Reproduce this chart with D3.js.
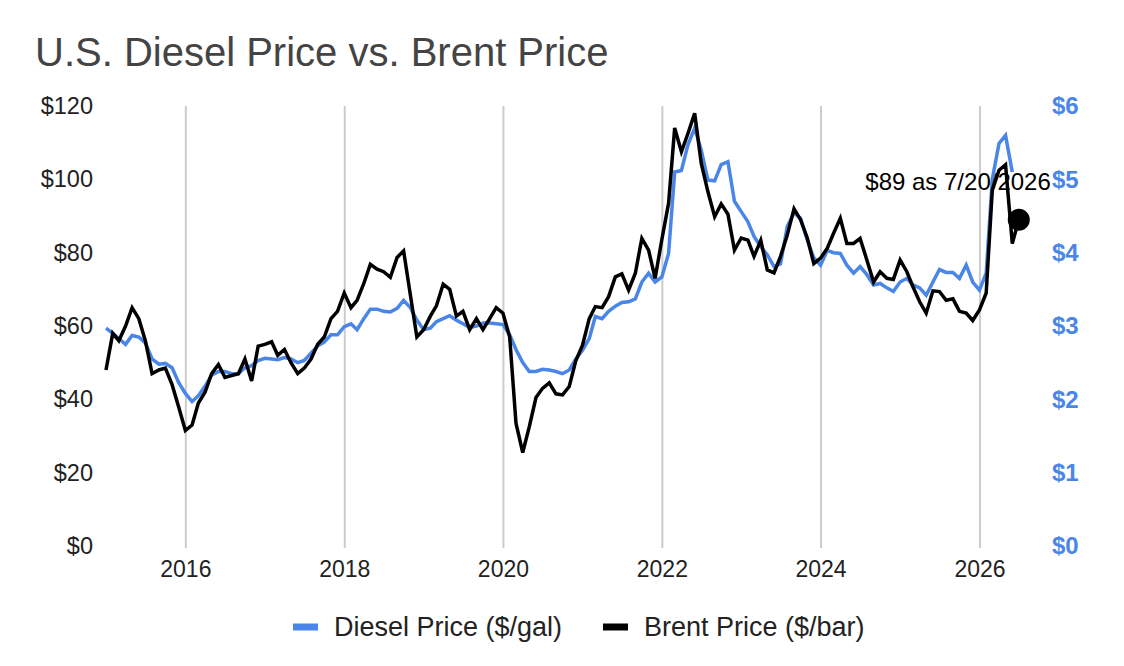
<!DOCTYPE html>
<html>
<head>
<meta charset="utf-8">
<script src="https://cdn.jsdelivr.net/npm/d3@7"></script>
<style>
  body { margin: 0; background: #fff; }
  svg { font-family: Arial, "Liberation Sans", sans-serif; }
</style>
</head>
<body>
<svg id="chart" width="1124" height="666"></svg>
<script>

const title = 'U.S. Diesel Price vs. Brent Price'
const startMonth = '2015-01'

// monthly, $/gal
const diesel = [
  2.97, 2.90, 2.83, 2.75, 2.87, 2.85, 2.77, 2.55, 2.48, 2.49, 2.43, 2.23,
  2.08, 1.97, 2.05, 2.18, 2.33, 2.38, 2.38, 2.35, 2.35, 2.43, 2.46, 2.53,
  2.56, 2.55, 2.54, 2.57, 2.55, 2.50, 2.53, 2.63, 2.73, 2.78, 2.88, 2.88,
  2.99, 3.03, 2.95, 3.10, 3.23, 3.23, 3.20, 3.19, 3.24, 3.35, 3.25, 3.08,
  2.95, 2.97, 3.06, 3.10, 3.14, 3.08, 3.03, 2.98, 3.00, 3.04, 3.04, 3.03,
  3.02, 2.88, 2.68, 2.50, 2.38, 2.38, 2.41, 2.40, 2.38, 2.35, 2.40, 2.55,
  2.67, 2.83, 3.13, 3.10, 3.20, 3.27, 3.32, 3.33, 3.37, 3.60, 3.72, 3.60,
  3.67, 3.99, 5.10, 5.12, 5.47, 5.70, 5.40, 4.99, 4.98, 5.20, 5.24, 4.70,
  4.56, 4.42, 4.22, 4.08, 3.97, 3.81, 3.85, 4.36, 4.54, 4.47, 4.17, 3.93,
  3.83, 4.03, 4.00, 3.99, 3.83, 3.72, 3.81, 3.70, 3.56, 3.58, 3.52, 3.47,
  3.60, 3.65, 3.56, 3.52, 3.42, 3.60, 3.77, 3.73, 3.73, 3.65, 3.83, 3.60,
  3.49, 3.72, 5.00, 5.49, 5.60, 5.10
]

// monthly, $/bar (last entry = latest reading)
const brent = [
  48, 58, 56, 60, 65, 62, 56, 47, 48, 48.5, 44, 38,
  31.5, 33, 39, 42, 47, 49.5, 46, 46.5, 47, 51, 45, 54.5,
  55, 55.7, 52, 53.6, 50, 47, 48.5, 51, 55, 57, 62, 64,
  69, 65, 67, 71.6, 76.8, 75.5, 74.8, 73.3, 78.7, 80.5, 68.5, 57,
  59, 62.7, 65.5, 71.4, 70, 62.7, 64, 59, 62, 59, 62, 65,
  63.5, 57, 33.5, 25.5, 32.5, 40.5, 43, 44.5, 41.5, 41.2, 43.5, 50.5,
  54.8, 62, 65.3, 65, 68, 73.4, 74.2, 69.8, 74.4, 83.9, 80.7, 73,
  83.6, 93.5, 114, 107.5, 112.5, 118, 104.4, 96.6, 89.8, 93.3, 90.5, 80.7,
  84, 83.4, 79, 83.4, 75.3, 74.5, 79, 84.8, 92, 89, 84, 77,
  78.5, 81.2, 85.3, 89.4, 82.5, 82.5, 83.9, 78, 72, 74.8, 73, 72.7,
  78, 74.8, 70.7, 66.6, 63.5, 69.6, 69.4, 67, 67.4, 64, 63.5, 61.5,
  64.4, 69, 97, 102.5, 104, 82.5, 89
]

const lastLabel = '$89 as 7/20/2026'

const yearTicks = [2016, 2018, 2020, 2022, 2024, 2026]
const leftTicks = [0, 20, 40, 60, 80, 100, 120]
const rightTicks = [0, 1, 2, 3, 4, 5, 6]
const seriesNames = ['Diesel Price ($/gal)', 'Brent Price ($/bar)']
const seriesColors = ['#4a86e8', '#000000']

const parseMonth = d3.timeParse('%Y-%m')
const monthAt = i => d3.timeMonth.offset(parseMonth(startMonth), i)

const dieselPts = diesel.map((v, i) => ({ date: monthAt(i), value: v }))
const brentPts = brent.map((v, i) => ({ date: monthAt(i), value: v }))

const svg = d3.select('#chart')
const plotTop = 106, plotBottom = 546

const x = d3.scaleTime()
  .domain([monthAt(0), monthAt(brent.length - 1)])
  .range([106, 1018.8])

const yL = d3.scaleLinear().domain([0, 120]).range([plotBottom, plotTop])
const yR = d3.scaleLinear().domain([0, 6]).range([plotBottom, plotTop])

svg.append('rect').attr('width', 1124).attr('height', 666).attr('fill', '#fff')

svg.append('text')
  .attr('x', 35).attr('y', 66)
  .attr('font-size', 40)
  .attr('fill', '#444')
  .text(title)

// vertical year grid + labels
const xAxis = svg.append('g')
  .attr('transform', `translate(0,${plotBottom + 2})`)
  .call(d3.axisBottom(x)
    .tickValues(yearTicks.map(y => new Date(y, 0, 1)))
    .tickSize(-(plotBottom + 2 - plotTop))
    .tickPadding(13)
    .tickFormat(d3.timeFormat('%Y')))
xAxis.select('.domain').remove()
xAxis.selectAll('line').attr('stroke', '#cccccc').attr('stroke-width', 2)
xAxis.selectAll('text')
  .attr('font-size', 23).attr('fill', '#222')
  .attr('font-family', 'Arial, "Liberation Sans", sans-serif')

const leftAxis = svg.append('g')
  .attr('transform', 'translate(93,0)')
  .call(d3.axisLeft(yL).tickValues(leftTicks).tickSize(0).tickPadding(0)
    .tickFormat(d => '$' + d))
leftAxis.select('.domain').remove()
leftAxis.selectAll('text')
  .attr('font-size', 23.5).attr('fill', '#222')
  .attr('font-family', 'Arial, "Liberation Sans", sans-serif')

const rightAxis = svg.append('g')
  .attr('transform', 'translate(1052,0)')
  .call(d3.axisRight(yR).tickValues(rightTicks).tickSize(0).tickPadding(0)
    .tickFormat(d => '$' + d))
rightAxis.select('.domain').remove()
rightAxis.selectAll('text')
  .attr('font-size', 24).attr('font-weight', 'bold').attr('fill', seriesColors[0])
  .attr('font-family', 'Arial, "Liberation Sans", sans-serif')

const dieselLine = d3.line().x(d => x(d.date)).y(d => yR(d.value))
const brentLine = d3.line().x(d => x(d.date)).y(d => yL(d.value))

svg.append('path')
  .datum(dieselPts)
  .attr('d', dieselLine)
  .attr('fill', 'none')
  .attr('stroke', seriesColors[0])
  .attr('stroke-width', 3.5)

svg.append('path')
  .datum(brentPts)
  .attr('d', brentLine)
  .attr('fill', 'none')
  .attr('stroke', seriesColors[1])
  .attr('stroke-width', 3.5)

const last = brentPts[brentPts.length - 1]
svg.append('circle')
  .attr('cx', x(last.date)).attr('cy', yL(last.value))
  .attr('r', 11).attr('fill', '#000')

svg.append('text')
  .attr('x', x(last.date) + 32).attr('y', yL(last.value) - 30)
  .attr('text-anchor', 'end')
  .attr('font-size', 24).attr('fill', '#000')
  .text(lastLabel)

// legend
const legend = svg.append('g').attr('transform', 'translate(0,627)')
const legendX = [293, 603]
seriesNames.forEach((name, i) => {
  legend.append('rect')
    .attr('x', legendX[i]).attr('y', -3.5)
    .attr('width', 25).attr('height', 7)
    .attr('fill', seriesColors[i])
  legend.append('text')
    .attr('x', legendX[i] + 41).attr('y', 0)
    .attr('dy', '0.35em')
    .attr('font-size', 27).attr('fill', '#222')
    .text(name)
})

</script>
</body>
</html>
